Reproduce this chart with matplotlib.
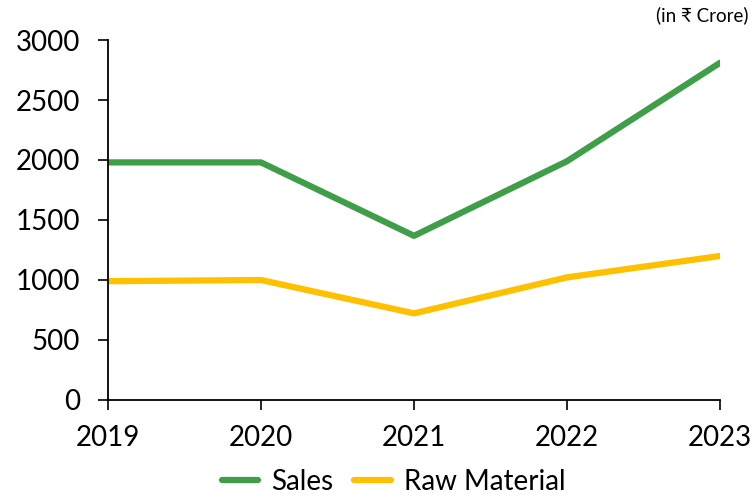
import matplotlib.pyplot as plt

years = ['2019', '2020', '2021', '2022', '2023']
sales = [1980, 1980, 1368, 1990, 2810]
raw_material = [990, 1000, 722, 1022, 1200]

plt.rcParams['font.family'] = ['Lato', 'DejaVu Sans']

fig = plt.figure(figsize=(7.54, 5), dpi=100)
ax = fig.add_axes([108 / 754, 0.2, 612 / 754, 0.72])

x = range(len(years))
ax.plot(x, sales, color='#3f9e48', lw=4.5, label='Sales', solid_capstyle='round')
ax.plot(x, raw_material, color='#ffc000', lw=4.5, label='Raw Material', solid_capstyle='round')

ax.set_xlim(0, len(years) - 1)
ax.set_ylim(0, 3000)
ax.set_yticks(range(0, 3001, 500))
ax.set_xticks(list(x))
ax.set_xticklabels(years)
ax.tick_params(labelsize=20, width=1.2, length=7, color='black')
ax.tick_params(axis='x', pad=11)
ax.tick_params(axis='y', pad=13)

for s in ['top', 'right']:
    ax.spines[s].set_visible(False)
for s in ['left', 'bottom']:
    ax.spines[s].set_linewidth(1.3)

fig.text(0.993, 0.97, '(in ₹ Crore)', ha='right', va='center', fontsize=13.5)

ax.legend(loc='center', bbox_to_anchor=(0.467, -0.228), ncol=2, frameon=False,
          fontsize=20, handlelength=1.3, columnspacing=0.75, handletextpad=0.5)

fig.savefig('out.png', dpi=100)
